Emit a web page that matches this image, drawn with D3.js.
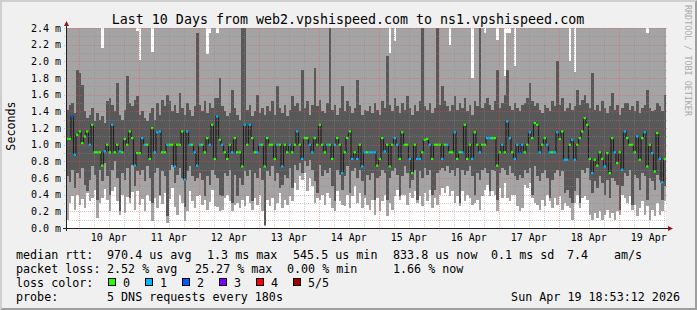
<!DOCTYPE html>
<html>
<head>
<meta charset="utf-8">
<script src="https://cdn.jsdelivr.net/npm/d3@7"></script>
<style>
html, body { margin: 0; padding: 0; background: #f0f0f0; }
svg { display: block; font-family: "DejaVu Sans Mono", monospace; }
</style>
</head>
<body>
<script>
// chart values (ms, one entry per hourly column)
const title = "Last 10 Days from web2.vpshispeed.com to ns1.vpshispeed.com";
const endTime = new Date(2026, 3, 19, 18, 53, 12);
const yTicks = [0, 0.2, 0.4, 0.6, 0.8, 1.0, 1.2, 1.4, 1.6, 1.8, 2.0, 2.2, 2.4];
const lossLabels = ["0", "1", "2", "3", "4", "5/5"];
const lossColors = ["#26ff00", "#00b8ff", "#0059ff", "#7e00ff", "#ff0000", "#a10000"];

const pingMin = [
  .10,.30,.38,.22,.40,.28,.35,.24,.42,.33,.36,.46,.12,.30,.36,.47,.34,.20,.44,.49,
  .32,.16,.40,.18,.37,.30,.43,.22,.45,.28,.35,.20,.40,.32,.08,.36,.24,.38,.29,.42,
  .06,.35,.48,.25,.16,.40,.30,.08,.20,.44,.32,.24,.38,.40,.28,.34,.22,.31,.46,.26,
  .25,.20,.22,.36,.40,.32,.20,.28,.30,.24,.34,.26,.38,.30,.22,.36,.28,.40,.20,.02,
  .34,.26,.36,.22,.30,.42,.24,.34,.28,.38,.32,.54,.46,.62,.58,.66,.44,.60,.50,.30,
  .36,.34,.40,.28,.42,.36,.24,.20,.44,.32,.28,.26,.40,.24,.38,.50,.30,.42,.24,.36,
  .28,.22,.34,.16,.36,.20,.32,.40,.14,.30,.22,.38,.46,.34,.40,.40,.28,.42,.36,.44,
  .30,.38,.26,.42,.32,.46,.24,.36,.28,.40,.48,.42,.50,.38,.44,.30,.38,.26,.44,.32,
  .40,.36,.28,.30,.34,.22,.38,.46,.52,.38,.44,.40,.20,.48,.36,.54,.36,.32,.40,.40,
  .26,.20,.24,.52,.48,.54,.36,.30,.28,.22,.34,.26,.40,.32,.24,.36,.28,.38,.22,.30,
  .26,.24,.10,.30,.40,.24,.36,.38,.34,.16,.10,.18,.12,.20,.10,.16,.22,.12,.18,.10,
  .20,.16,.40,.36,.30,.38,.22,.28,.14,.24,.32,.16,.26,.10,.22,.14,.30,.16,.20,.32
];
const pingLow = [
  .62,.55,.70,.48,.66,.60,.72,.52,.45,.58,.74,.64,.34,.70,.56,.78,.62,.40,.70,.80,
  .60,.20,.66,.58,.72,.36,.76,.50,.68,.64,.70,.56,.74,.60,.30,.66,.72,.40,.68,.62,
  .14,.70,.76,.54,.64,.72,.60,.25,.68,.74,.62,.56,.60,.66,.58,.38,.62,.52,.70,.64,
  .60,.40,.38,.66,.62,.70,.30,.64,.38,.60,.52,.68,.62,.70,.32,.66,.60,.72,.58,.04,
  .68,.62,.74,.56,.66,.48,.52,.64,.60,.72,.48,.76,.70,.78,.66,.80,.74,.82,.70,.56,
  .42,.76,.62,.70,.66,.72,.50,.32,.70,.64,.46,.62,.74,.42,.68,.72,.60,.70,.56,.40,
  .64,.58,.66,.34,.60,.62,.70,.66,.34,.60,.68,.72,.64,.38,.62,.74,.66,.48,.58,.70,
  .34,.68,.60,.72,.64,.70,.40,.46,.66,.70,.72,.68,.74,.66,.70,.62,.72,.30,.70,.64,
  .68,.74,.62,.40,.66,.58,.70,.72,.66,.44,.70,.68,.34,.66,.72,.70,.64,.74,.66,.62,
  .58,.64,.60,.70,.66,.72,.40,.74,.62,.56,.66,.70,.60,.36,.58,.66,.70,.62,.68,.42,
  .46,.36,.30,.44,.60,.30,.70,.66,.72,.58,.42,.56,.48,.62,.54,.40,.58,.36,.60,.56,
  .52,.22,.50,.66,.62,.70,.28,.64,.60,.46,.66,.62,.34,.60,.56,.46,.64,.58,.34,.50
];
const median = [
  1.07,1.07,1.34,.88,1.12,1.16,1.02,1.10,1.16,1.00,1.24,.91,.91,.91,.75,.92,1.00,.91,1.24,.91,
  1.00,.92,.91,1.07,1.00,1.16,1.08,.75,.90,.90,1.08,1.00,1.00,.83,1.20,.91,1.15,1.16,.91,.91,
  1.00,1.00,1.00,.74,1.00,1.00,1.16,.58,1.16,1.00,1.00,.91,.75,1.00,1.00,.91,1.08,1.00,1.24,.83,
  1.34,1.06,1.00,.91,.83,1.00,.91,1.08,.91,.91,.74,1.24,1.00,1.24,1.08,.91,.91,1.00,1.00,.74,
  1.08,1.00,1.00,.83,1.00,1.00,.74,1.00,.91,1.00,.91,1.00,1.16,1.00,.83,1.08,1.08,1.00,.91,1.08,
  1.00,1.24,1.00,.91,1.00,1.00,.83,1.00,1.08,1.00,.66,.91,1.08,1.16,.83,.91,.83,1.00,.74,.91,
  .91,.91,.91,.91,.75,.83,1.08,.92,1.00,.74,1.00,1.08,1.00,.83,1.15,1.00,1.00,.83,.66,1.00,
  .83,.83,.91,1.06,1.07,1.00,.83,1.00,1.00,1.00,.83,1.00,1.00,.91,.91,1.15,.83,.91,.91,1.24,
  .83,1.00,.83,1.15,1.00,.91,1.00,1.00,1.08,1.08,1.08,1.08,.75,.91,1.00,.91,1.28,1.08,.91,.83,
  1.00,.90,1.00,.91,1.00,1.15,1.08,1.26,1.24,.91,1.00,1.08,1.00,.91,.91,.91,1.15,1.07,1.16,.82,
  .82,1.00,1.06,.82,1.00,1.08,1.16,1.32,1.24,.83,.66,.82,.75,.91,.83,.74,.90,.66,1.08,.91,
  .78,.91,.70,1.16,1.08,1.00,1.00,.91,1.10,.82,1.08,1.15,.74,1.00,.90,.68,1.14,.83,.55,.83
];
const pingHigh = [
  1.42,1.48,1.50,1.38,1.90,1.86,1.72,1.40,1.32,1.36,1.44,1.28,1.38,1.30,1.34,1.26,1.52,1.56,1.48,1.40,
  1.74,1.36,1.30,1.42,1.82,1.50,1.46,1.54,1.58,1.36,1.40,1.32,1.28,1.38,1.44,1.30,1.50,1.36,1.54,1.46,
  1.60,1.52,1.40,1.48,1.38,1.62,1.44,1.36,1.50,1.42,1.34,1.46,2.34,1.48,1.40,1.52,1.38,1.50,1.44,1.56,
  1.56,1.80,1.46,1.40,1.34,1.38,1.66,1.44,1.36,1.30,2.55,2.55,1.42,1.48,1.34,1.40,1.60,1.38,1.44,1.36,
  1.46,1.40,1.52,1.36,1.70,1.44,1.38,1.48,1.34,1.42,1.58,1.46,1.50,1.40,1.90,1.44,1.52,1.36,1.48,1.92,
  1.46,1.54,1.40,1.38,1.50,2.55,1.42,1.48,1.36,1.44,1.70,1.40,1.52,1.46,1.38,1.44,1.78,1.48,1.36,1.42,
  1.40,1.46,1.38,1.50,1.42,1.36,1.52,1.44,2.06,1.48,1.40,1.56,1.46,1.38,1.50,1.42,1.58,1.44,1.36,1.48,
  1.40,1.52,2.55,1.46,1.42,1.50,1.38,1.44,2.55,1.48,1.70,1.52,1.46,1.40,1.48,1.58,1.42,1.50,1.44,1.56,
  1.40,1.48,1.36,1.52,1.46,2.55,1.44,1.50,1.56,1.48,1.42,1.52,1.90,1.44,1.50,1.60,1.90,1.46,1.42,1.50,
  1.44,1.40,1.48,1.50,1.56,1.74,1.52,1.46,1.50,1.42,1.38,1.48,1.44,1.40,1.52,1.46,2.00,1.48,1.56,1.40,
  1.44,1.50,1.42,1.46,1.66,1.48,1.54,1.60,1.50,1.44,1.86,1.42,1.48,1.40,1.52,1.44,1.38,1.46,1.62,1.42,
  1.48,1.36,1.44,1.50,1.50,1.42,1.46,1.40,1.52,1.38,1.44,1.48,1.66,1.44,1.40,1.42,1.50,1.46,1.40,1.60
];
const pingMax = [
  2.6,2.6,2.6,2.6,2.6,2.6,2.6,2.6,2.6,2.6,2.6,2.6,2.6,2.6,2.16,2.6,2.6,2.6,2.6,2.6,
  2.6,2.6,2.6,2.6,2.6,2.6,2.6,2.6,2.37,2.02,2.6,2.6,2.6,2.6,2.11,2.6,2.6,2.6,2.6,2.6,
  2.6,2.6,2.6,2.6,2.6,2.6,2.6,2.6,2.6,2.6,2.6,2.6,2.6,2.6,2.6,2.6,2.09,2.34,2.6,2.6,
  2.34,2.6,2.6,2.6,2.6,2.6,2.6,2.6,2.6,2.6,2.6,2.6,2.6,2.6,2.6,2.6,2.6,2.6,2.6,2.6,
  2.6,2.6,2.6,2.6,2.6,2.6,2.6,2.6,2.6,2.6,2.6,2.6,2.6,2.6,2.6,2.6,2.6,2.6,2.6,2.6,
  2.6,2.6,2.6,2.6,2.6,2.6,2.6,2.6,2.6,2.6,2.6,2.6,2.6,2.6,2.6,2.6,2.6,2.6,2.6,2.6,
  2.6,2.6,2.6,2.6,2.6,2.6,2.6,2.6,2.6,2.10,2.6,2.25,2.6,2.6,2.6,2.6,2.6,2.6,2.6,2.6,
  2.6,2.6,2.6,2.6,2.6,2.6,2.6,2.6,2.6,2.6,2.6,2.6,2.6,2.20,2.6,2.6,2.6,2.6,2.6,2.6,
  2.6,2.6,1.80,2.6,2.6,2.6,2.6,2.34,2.6,2.6,2.6,2.6,2.26,2.6,2.6,1.83,2.34,2.34,2.6,1.94,
  2.6,2.6,2.6,2.6,2.6,2.6,2.6,2.6,2.6,2.6,2.6,2.6,2.6,2.6,2.6,2.6,2.6,2.6,2.6,2.6,
  2.6,2.00,2.6,1.87,2.6,2.6,2.6,2.6,2.6,2.6,2.6,2.6,2.6,2.6,2.6,2.6,2.6,2.6,2.6,2.6,
  2.6,2.6,2.6,2.6,2.6,2.6,2.6,2.6,2.6,2.6,2.6,2.6,2.34,2.6,2.6,2.6,2.6,2.6,2.6,2.6
];
const loss = [
  0,0,2,1,0,0,0,0,0,1,0,0,0,0,0,1,0,0,1,0,
  0,1,0,0,0,0,0,1,0,0,1,1,0,0,0,1,1,1,0,0,
  1,0,0,1,0,0,0,1,1,1,0,1,1,1,0,0,0,1,0,0,
  1,0,1,0,0,0,1,0,0,0,0,1,0,1,0,0,1,1,0,0,
  0,0,0,0,1,0,1,0,0,1,0,0,1,0,1,0,0,1,1,0,
  0,0,0,0,1,0,0,1,0,0,1,0,0,0,1,0,1,0,1,1,
  0,1,1,1,0,0,0,1,0,0,0,1,1,0,0,0,0,1,0,0,
  1,1,0,0,0,1,0,0,0,0,1,0,1,0,0,1,0,0,1,0,
  0,0,1,0,0,1,0,0,1,1,0,0,0,0,1,0,1,1,0,1,
  1,2,1,0,0,1,0,0,0,1,0,0,1,1,0,1,1,0,0,1,
  1,0,1,1,0,0,0,0,0,0,1,0,0,0,0,1,0,0,0,1,
  0,0,1,1,0,0,0,0,1,0,0,1,0,0,1,0,0,1,1,0
];

const legendRows = [
  ["median rtt:", 16], ["970.4 us avg", 107], ["1.3 ms max", 207], ["545.5 us min", 293],
  ["833.8 us now", 393], ["0.1 ms sd", 491], ["7.4", 567], ["am/s", 614]
];
const lossRows = [
  ["packet loss:", 16], ["2.52 % avg", 107], ["25.27 % max", 195], ["0.00 % min", 287], ["1.66 % now", 393]
];

const W = 697, H = 310;
const plotL = 66, plotR = 666, plotT = 28, plotB = 228;
const HOUR = 3600e3;
const startTime = new Date(+endTime - 240 * HOUR);

const cols = median.map((m, i) => ({
  t: new Date(+startTime + i * HOUR),
  lo: pingMin[i], p2: pingLow[i], med: m, p4: pingHigh[i], hi: pingMax[i], loss: loss[i]
}));
const stepData = cols.concat([Object.assign({}, cols[cols.length - 1], {t: endTime})]);

const x = d3.scaleTime().domain([startTime, endTime]).range([plotL, plotR]);
const y = d3.scaleLinear().domain([0, 2.4]).range([plotB, plotT]);

const svg = d3.select("body").append("svg").attr("width", W).attr("height", H);

svg.append("rect").attr("width", W).attr("height", H).attr("fill", "#f0f0f0");
svg.append("path").attr("d", "M0,0 L697,0 L695,2 L2,2 L2,308 L0,310 Z").attr("fill", "#cfcfcf");
svg.append("path").attr("d", "M697,0 L697,310 L0,310 L2,308 L695,308 L695,2 Z").attr("fill", "#9e9e9e");

const defs = svg.append("defs");
defs.append("clipPath").attr("id", "plot")
    .append("rect").attr("x", plotL).attr("y", plotT).attr("width", plotR - plotL).attr("height", plotB - plotT);

// 1px dot patterns for the dotted grid
const dotPattern = (id, w, h, color) => {
  defs.append("pattern").attr("id", id).attr("patternUnits", "userSpaceOnUse")
      .attr("width", w).attr("height", h)
      .append("rect").attr("width", 1).attr("height", 1).attr("fill", color);
};
dotPattern("minH", 2, 1, "rgba(140,140,140,0.4)");
dotPattern("minV", 1, 2, "rgba(140,140,140,0.4)");
dotPattern("majH", 2, 1, "rgba(255,70,70,0.4)");
dotPattern("majV", 1, 2, "rgba(255,70,70,0.42)");

svg.append("rect").attr("x", plotL).attr("y", plotT).attr("width", plotR - plotL).attr("height", plotB - plotT)
   .attr("fill", "#ffffff");

const g = svg.append("g").attr("clip-path", "url(#plot)");

// smoke: outer pair light, inner pair dark
const outer = d3.area().curve(d3.curveStepAfter).x(d => x(d.t)).y0(d => y(d.lo)).y1(d => y(d.hi));
const inner = d3.area().curve(d3.curveStepAfter).x(d => x(d.t)).y0(d => y(d.p2)).y1(d => y(d.p4));
g.append("path").datum(stepData).attr("d", outer).attr("fill", "#a4a4a4").attr("shape-rendering", "crispEdges");
g.append("path").datum(stepData).attr("d", inner).attr("fill", "#585858").attr("shape-rendering", "crispEdges");

// grid (dotted, drawn over the smoke)
const minorY = d3.range(1, 24, 2).map(k => k / 10);
const days = d3.timeDay.range(startTime, endTime);
const sixH = d3.timeHour.every(6).range(startTime, endTime).filter(d => d.getHours() !== 0);
const grid = svg.append("g").attr("shape-rendering", "crispEdges");
grid.selectAll(".mh").data(minorY).enter().append("rect")
    .attr("x", plotL - 2).attr("width", plotR - plotL + 4).attr("y", d => Math.round(y(d))).attr("height", 1)
    .attr("fill", "url(#minH)");
grid.selectAll(".mv").data(sixH).enter().append("rect")
    .attr("x", d => Math.round(x(d))).attr("width", 1).attr("y", plotT).attr("height", plotB - plotT + 2)
    .attr("fill", "url(#minV)");
grid.selectAll(".Mh").data(yTicks.slice(1)).enter().append("rect")
    .attr("x", plotL - 2).attr("width", plotR - plotL + 4).attr("y", d => Math.round(y(d))).attr("height", 1)
    .attr("fill", "url(#majH)");
grid.selectAll(".Mv").data(days).enter().append("rect")
    .attr("x", d => Math.round(x(d))).attr("width", 1).attr("y", plotT).attr("height", plotB - plotT + 3)
    .attr("fill", "url(#majV)");

// median line and loss colour marks
const medLine = d3.line().curve(d3.curveStepAfter).x(d => x(d.t)).y(d => y(d.med));
g.append("path").datum(stepData).attr("d", medLine).attr("fill", "none")
 .attr("stroke", "#202020").attr("stroke-width", 1.2);
g.selectAll(".lm").data(cols).enter().append("rect")
 .attr("x", d => x(d.t)).attr("width", d => x(new Date(+d.t + HOUR)) - x(d.t))
 .attr("y", d => y(d.med) - 1).attr("height", 2.2)
 .attr("fill", d => lossColors[d.loss]);

// axes
svg.append("line").attr("x1", plotL - 3).attr("x2", plotR + 3).attr("y1", plotB + 0.5).attr("y2", plotB + 0.5)
   .attr("stroke", "#202020");
svg.append("line").attr("x1", plotL + 0.5).attr("x2", plotL + 0.5).attr("y1", plotB + 3).attr("y2", plotT - 3)
   .attr("stroke", "#202020");
svg.append("path").attr("d", `M${plotL - 2},${plotT - 2} L${plotL + 3},${plotT - 2} L${plotL + 0.5},${plotT - 7} Z`).attr("fill", "#8b1a1a");
svg.append("path").attr("d", `M${plotR + 2},${plotB - 2} L${plotR + 2},${plotB + 3} L${plotR + 7},${plotB + 0.5} Z`).attr("fill", "#8b1a1a");

// tick labels
svg.append("g").selectAll("text").data(yTicks).enter().append("text")
   .attr("x", 61).attr("y", d => y(d) + 3.6).attr("text-anchor", "end")
   .attr("font-size", "10px").attr("fill", "#000")
   .text(d => d3.format(".1f")(d) + " m");
const noons = d3.timeHour.range(startTime, endTime).filter(d => d.getHours() === 12);
svg.append("g").selectAll("text").data(noons).enter().append("text")
   .attr("x", d => x(d)).attr("y", 241).attr("text-anchor", "middle")
   .attr("font-size", "10px").attr("fill", "#000")
   .text(d => d3.timeFormat("%d %b")(d));

// title, axis label, watermark
svg.append("text").attr("x", 348).attr("y", 24).attr("text-anchor", "middle")
   .attr("font-size", "13.3px").attr("fill", "#000").text(title);
svg.append("text").attr("transform", "translate(15,126) rotate(-90)").attr("text-anchor", "middle")
   .attr("font-size", "11.7px").attr("fill", "#000").text("Seconds");
svg.append("text").attr("transform", "translate(684.5,5) rotate(90)").attr("text-anchor", "start")
   .attr("font-size", "8.4px").attr("fill", "#aaaaaa").text("RRDTOOL / TOBI OETIKER");

// legend
const legend = svg.append("g").attr("font-size", "11.7px").attr("fill", "#000");
legend.selectAll(".r1").data(legendRows).enter().append("text")
      .attr("x", d => d[1]).attr("y", 258.5).text(d => d[0]);
legend.selectAll(".r2").data(lossRows).enter().append("text")
      .attr("x", d => d[1]).attr("y", 272.5).text(d => d[0]);
legend.append("text").attr("x", 16).attr("y", 286.5).text("loss color:");
lossLabels.forEach((lab, i) => {
  legend.append("rect").attr("x", 108.5 + i * 37).attr("y", 278.5).attr("width", 7).attr("height", 7)
        .attr("fill", lossColors[i]).attr("stroke", "#000");
  legend.append("text").attr("x", 123 + i * 37).attr("y", 286.5).text(lab);
});
legend.append("text").attr("x", 16).attr("y", 300.5).text("probe:");
legend.append("text").attr("x", 107).attr("y", 300.5).text("5 DNS requests every 180s");
legend.append("text").attr("x", 680).attr("y", 300.5).attr("text-anchor", "end").text("Sun Apr 19 18:53:12 2026");
</script>
</body>
</html>
